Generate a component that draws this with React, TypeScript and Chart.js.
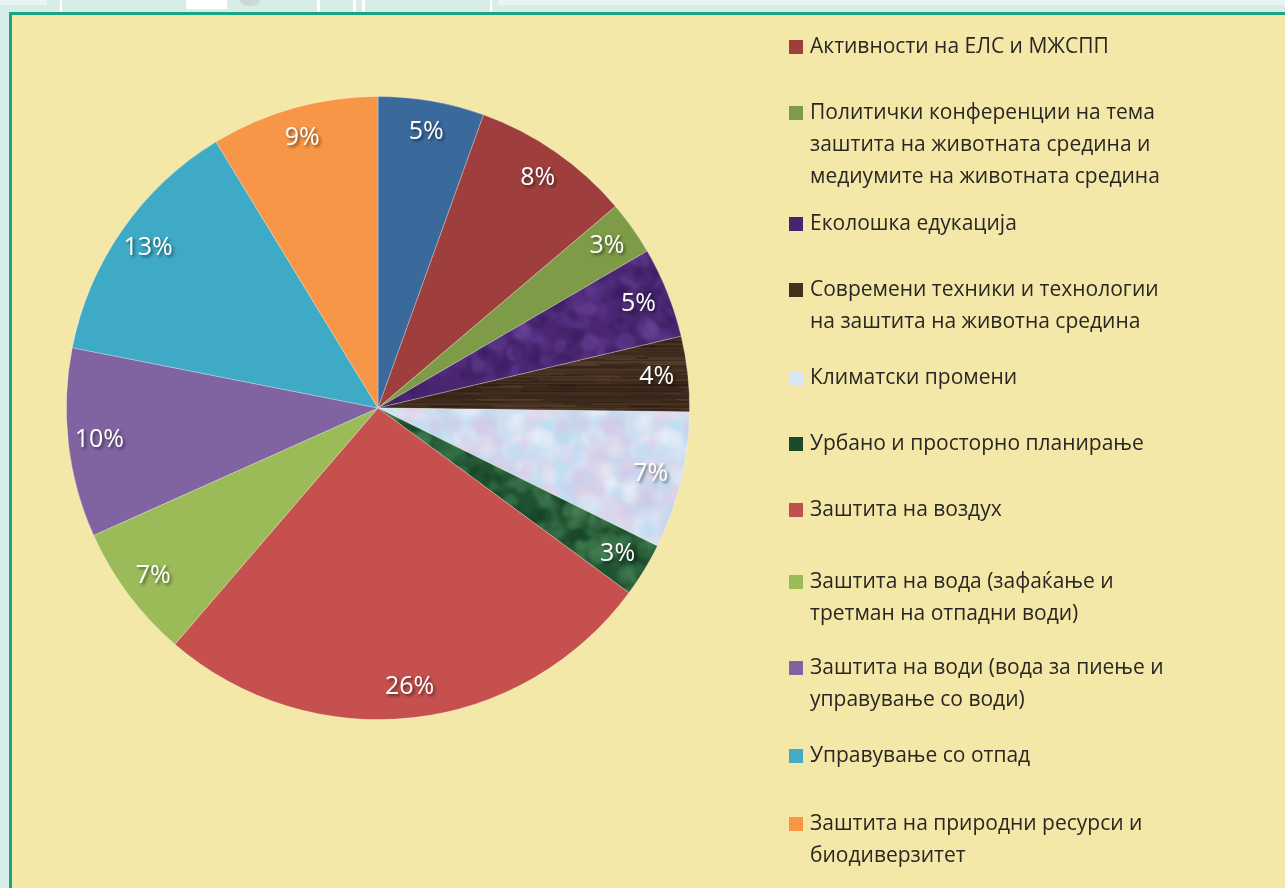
import React, { useEffect, useRef } from "react";
import { Chart, registerables } from "chart.js";

Chart.register(...registerables);

// ---- Data ----
const categories: string[] = [
  "Друго",
  "Активности на ЕЛС и МЖСПП",
  "Политички конференции на тема заштита на животната средина и медиумите на животната средина",
  "Еколошка едукација",
  "Современи техники и технологии на заштита на животна средина",
  "Климатски промени",
  "Урбано и просторно планирање",
  "Заштита на воздух",
  "Заштита на вода (зафаќање и третман на отпадни води)",
  "Заштита на води (вода за пиење и управување со води)",
  "Управување со отпад",
  "Заштита на природни ресурси и биодиверзитет",
];

const shares: number[] = [5.5, 8.3, 2.8, 4.7, 3.9, 7.1, 2.8, 26.2, 7.0, 9.8, 13.2, 8.7];

const percentLabels: string[] = ["5%", "8%", "3%", "5%", "4%", "7%", "3%", "26%", "7%", "10%", "13%", "9%"];

const legendLines: string[][] = [
  [],
  ["Активности на ЕЛС и МЖСПП"],
  ["Политички конференции на тема", "заштита на животната средина и", "медиумите на животната средина"],
  ["Еколошка едукација"],
  ["Современи техники и технологии", "на заштита на животна средина"],
  ["Климатски промени"],
  ["Урбано и просторно планирање"],
  ["Заштита на воздух"],
  ["Заштита на вода (зафаќање и", "третман на отпадни води)"],
  ["Заштита на води (вода за пиење и", "управување со води)"],
  ["Управување со отпад"],
  ["Заштита на природни ресурси и", "биодиверзитет"],
];

const sliceColors: string[] = [
  "#3a6a9c", "#9e3f3d", "#7e9c48", "#4a2670", "#3f2b1d", "#cfe2f2",
  "#1d4e2e", "#c5504d", "#9bbb59", "#8064a2", "#3eaac6", "#f79646",
];

const legendColors: string[] = [
  "#3a6a9c", "#9e3f3d", "#7e9c48", "#47256e", "#45301e", "#dae6f5",
  "#1e4a2c", "#c0504d", "#9bbb59", "#8064a2", "#45acc8", "#f79646",
];

// Layout constants
const LEGEND_Y = [0, 47, 113, 224, 290, 378, 444, 510, 582, 668, 756, 824];
const LEGEND_LINE_H = 32;
const LEGEND_BOX_X = 789;
const LEGEND_TEXT_X = 810;
const FONT = "'Open Sans', 'Noto Sans', sans-serif";

function makeRng(seed: number) {
  let s = seed >>> 0;
  return () => {
    s = (Math.imul(s, 1664525) + 1013904223) >>> 0;
    return s / 4294967296;
  };
}

function mottled(base: string, spots: string[], seed: number, alpha: number, rMin: number, rMax: number, n: number, blur: number): CanvasPattern | string {
  const S = 128;
  const src = document.createElement("canvas");
  src.width = S;
  src.height = S;
  const g = src.getContext("2d");
  if (!g) return base;
  g.fillStyle = base;
  g.fillRect(0, 0, S, S);
  const rnd = makeRng(seed);
  for (let i = 0; i < n; i++) {
    const x = rnd() * S;
    const y = rnd() * S;
    const r = rMin + rnd() * (rMax - rMin);
    g.globalAlpha = alpha * (0.3 + rnd() * 0.7);
    g.fillStyle = spots[Math.floor(rnd() * spots.length)];
    for (const dx of [-S, 0, S]) {
      for (const dy of [-S, 0, S]) {
        g.beginPath();
        g.arc(x + dx, y + dy, r, 0, Math.PI * 2);
        g.fill();
      }
    }
  }
  g.globalAlpha = 1;
  // blur with wrap-around by drawing a 3x3 tiled version
  const big = document.createElement("canvas");
  big.width = S * 3;
  big.height = S * 3;
  const bg = big.getContext("2d");
  if (!bg) return base;
  for (let i = 0; i < 3; i++) for (let j = 0; j < 3; j++) bg.drawImage(src, i * S, j * S);
  const out = document.createElement("canvas");
  out.width = S;
  out.height = S;
  const o = out.getContext("2d");
  if (!o) return base;
  (o as any).filter = `blur(${blur}px)`;
  o.drawImage(big, -S, -S);
  (o as any).filter = "none";
  const p = o.createPattern(out, "repeat");
  return p || base;
}

function woodGrain(base: string, lines: string[], seed: number): CanvasPattern | string {
  const c = document.createElement("canvas");
  c.width = 200;
  c.height = 60;
  const g = c.getContext("2d");
  if (!g) return base;
  g.fillStyle = base;
  g.fillRect(0, 0, 200, 60);
  const rnd = makeRng(seed);
  for (let i = 0; i < 60; i++) {
    const y = rnd() * 60;
    const x = rnd() * 200;
    const len = 40 + rnd() * 160;
    g.globalAlpha = 0.25 + rnd() * 0.35;
    g.fillStyle = lines[Math.floor(rnd() * lines.length)];
    const h = 0.6 + rnd() * 1.4;
    g.fillRect(x, y, len, h);
    g.fillRect(x - 200, y, len, h);
  }
  g.globalAlpha = 1;
  const p = g.createPattern(c, "repeat");
  return p || base;
}

const backgroundPlugin = {
  id: "pageBackground",
  beforeDraw(chart: any) {
    const ctx = chart.ctx as CanvasRenderingContext2D;
    const w = chart.width;
    const h = chart.height;
    ctx.save();
    ctx.fillStyle = "#d7ede8";
    ctx.fillRect(0, 0, w, h);
    // decorative light strips at very top
    ctx.fillStyle = "#e9f5f2";
    ctx.fillRect(0, 0, 47, 5);
    ctx.fillRect(498, 0, w - 498, 5);
    ctx.fillStyle = "#ffffff";
    ctx.fillRect(186, 0, 41, 9);
    ctx.fillRect(60, 0, 2, 12);
    ctx.fillRect(317, 0, 3, 12);
    ctx.fillRect(353, 0, 3, 12);
    ctx.fillRect(362, 0, 3, 12);
    ctx.fillRect(490, 0, 2, 12);
    ctx.fillStyle = "#c9d9d5";
    ctx.beginPath();
    ctx.ellipse(250, 0, 10, 6, 0, 0, Math.PI * 2);
    ctx.fill();
    // frame
    ctx.fillStyle = "#18a585";
    ctx.fillRect(9, 12, w - 9, h - 12);
    ctx.fillStyle = "#f3e8a8";
    ctx.fillRect(12, 15, w - 12, h - 15);
    ctx.restore();
  },
};

const sliceLabelPlugin = {
  id: "sliceLabels",
  afterDatasetsDraw(chart: any) {
    const ctx = chart.ctx as CanvasRenderingContext2D;
    const meta = chart.getDatasetMeta(0);
    ctx.save();
    ctx.font = `25px ${FONT}`;
    ctx.textAlign = "center";
    ctx.textBaseline = "middle";
    meta.data.forEach((el: any, i: number) => {
      const p = el.getProps(["x", "y", "startAngle", "endAngle", "outerRadius"], true);
      const mid = (p.startAngle + p.endAngle) / 2;
      const r = p.outerRadius * 0.9;
      const x = p.x + Math.cos(mid) * r;
      const y = p.y + Math.sin(mid) * r;
      ctx.shadowColor = "rgba(0,0,0,0.5)";
      ctx.shadowBlur = 3;
      ctx.shadowOffsetX = 2;
      ctx.shadowOffsetY = 2;
      ctx.fillStyle = "#ffffff";
      ctx.fillText(percentLabels[i], x, y);
    });
    ctx.restore();
  },
};

const legendPlugin = {
  id: "sideLegend",
  afterDraw(chart: any) {
    const ctx = chart.ctx as CanvasRenderingContext2D;
    ctx.save();
    ctx.font = `21px ${FONT}`;
    ctx.textAlign = "left";
    ctx.textBaseline = "middle";
    for (let i = 1; i < categories.length; i++) {
      const y0 = LEGEND_Y[i];
      ctx.fillStyle = legendColors[i];
      ctx.fillRect(LEGEND_BOX_X, y0 - 7, 14, 14);
      ctx.fillStyle = "#2a2623";
      legendLines[i].forEach((line, k) => {
        ctx.fillText(line, LEGEND_TEXT_X, y0 + k * LEGEND_LINE_H);
      });
    }
    ctx.restore();
  },
};

export default function App() {
  const canvasRef = useRef<HTMLCanvasElement | null>(null);

  useEffect(() => {
    const canvas = canvasRef.current;
    if (!canvas) return;
    const bg: (string | CanvasPattern)[] = sliceColors.slice();
    bg[3] = mottled("#4a2670", ["#5d3690", "#33185a", "#6a4399", "#3a1d60"], 7, 0.55, 3, 10, 220, 1.5);
    bg[4] = woodGrain("#3f2b1d", ["#5e4533", "#261910", "#6b5040"], 11);
    bg[5] = mottled("#cde0f1", ["#e6d2e8", "#b3dcf3", "#eef2fa", "#d3c6e6"], 23, 0.55, 4, 12, 240, 2);
    bg[6] = mottled("#1f5230", ["#3f7f50", "#123a20", "#4f8a5d"], 31, 0.55, 3, 10, 200, 1.5);

    const chart = new Chart(canvas, {
      type: "pie",
      data: {
        labels: categories,
        datasets: [
          {
            data: shares,
            backgroundColor: bg as any,
            borderColor: "rgba(255,255,255,0.35)",
            borderWidth: 0.8,
          },
        ],
      },
      options: {
        responsive: true,
        maintainAspectRatio: false,
        animation: false,
        rotation: 0,
        layout: { padding: { left: 66, right: 595, top: 96, bottom: 168 } },
        plugins: {
          legend: { display: false },
          tooltip: { enabled: false },
          title: { display: false },
        },
      },
      plugins: [backgroundPlugin, sliceLabelPlugin, legendPlugin],
    });
    return () => chart.destroy();
  }, []);

  return (
    <div style={{ position: "fixed", left: 0, top: 0, width: "1285px", height: "888px" }}>
      <canvas ref={canvasRef} />
    </div>
  );
}
